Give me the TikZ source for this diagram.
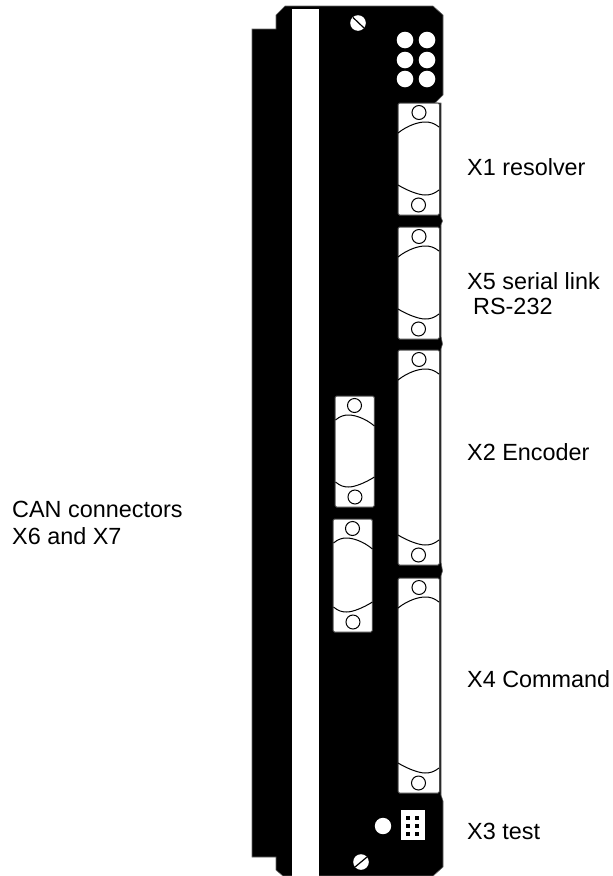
\documentclass[tikz,border=0pt]{standalone}
\usepackage{fontspec}
\setmainfont{Liberation Sans}
\tikzset{
  panel/.style={fill=black,draw=black!60,line width=0.6pt},
  plug/.style={fill=white,draw=black!70,line width=1pt,rounded corners=1.5pt},
  shell/.style={draw=black,line width=1pt},
  pin/.style={circle,draw=black,line width=1pt,inner sep=0pt,minimum size=14pt},
  label/.style={anchor=base west,inner sep=0pt,font=\fontsize{23.4}{28}\selectfont}
}
\begin{document}
\begin{tikzpicture}[x=1pt,y=-1pt]
      \useasboundingbox (0,0) rectangle (613,876);
      \def \Plugs{
        xone/419/103/215/1,
        xfive/419/227/339/1,
        xtwo/419/350/565/1,
        xfour/419/578/793/1,
        xsix/354.5/396/507/-0.95,
        xseven/352.5/519/632/-0.95}
      \def \Leds{
        405/40, 427/40,
        405/60, 427/60,
        405/79, 427/79}
      \def \Labels{
        xonelabel/467/175.5/X1 resolver,
        xfivelabel/467/289/X5 serial link,
        rslabel/473/314/RS-232,
        xtwolabel/467/460/X2 Encoder,
        xfourlabel/467/687/X4 Command,
        xthreelabel/467/839/X3 test,
        canlabel/12/517/CAN connectors,
        xsixlabel/12/544/X6 and X7}
      % body of the module
      \path[panel] (285,6) -- (433,6) -- (443,15) -- (443,95) -- (435,103)
        -- (441,103) -- (441,217) -- (442.5,221) -- (441,225) -- (441,336)
        -- (442.5,344) -- (441,349) -- (441,562) -- (442.5,571) -- (441,576)
        -- (441,795) -- (443,801) -- (443,867) -- (433,876) -- (283,876)
        -- (276,870) -- (276,857) -- (252,857) -- (252,29) -- (276,29)
        -- (276,15) -- cycle;
      \path[fill=white] (292,9) rectangle (319,876);
      \foreach \id / \x / \t / \b / \s in \Plugs{
        \begin{scope}[shift={(\x,0)},xscale=\s]
          \path[plug] (-21,\t) rectangle (20.5,\b);
          \draw[shell] (-21,\t+30) .. controls (-11,\t+22) and (0,\t+19) .. (6,\t+19)
            .. controls (11,\t+19) and (15,\t+20) .. (20,\t+24);
          \draw[shell] (-21,\b-30) .. controls (-11,\b-24) and (0,\b-20) .. (6,\b-20)
            .. controls (11,\b-20) and (15,\b-21) .. (20,\b-25);
          \node[pin] (\id top) at (0,\t+9.5) {};
          \node[pin] (\id bottom) at (-0.5,\b-10) {};
        \end{scope}
      }
      % front panel holes
      \foreach \x / \y in \Leds{
        \path[fill=white] (\x,\y) circle (8.3);
      }
      \path[fill=white] (383,826) circle (8.2);
      \path[fill=white] (358,23) circle (7.8);
      \draw[line width=1.2pt] (353,17.5) -- (364,28);
      \path[fill=white] (361,862) circle (7.8);
      \draw[line width=1.2pt] (355,867) -- (367,857);
      % test socket
      \path[fill=white] (401,810) rectangle (425,840);
      \foreach \x in {408,417}{
        \foreach \y in {818,825.5,834}{
          \path[fill=black] (\x-2,\y-2) rectangle (\x+2,\y+2);
        }
      }
      \foreach \id / \x / \y / \t in \Labels{
        \node[label] (\id) at (\x,\y) {\t};
      }
    \end{tikzpicture}
\end{document}
